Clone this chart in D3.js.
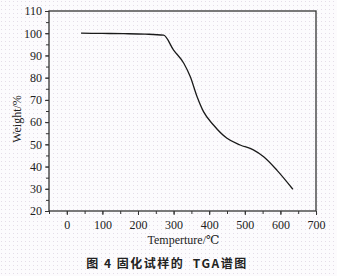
<!DOCTYPE html>
<html>
<head>
<meta charset="utf-8">
<script src="https://cdn.jsdelivr.net/npm/d3@7"></script>
<style>
  body { margin: 0; background: #fbf9fc; }
  svg { display: block; }
</style>
</head>
<body>
<svg id="chart" width="337" height="276"></svg>
<script>
// TGA curve
var temps   = [40, 100, 160, 220, 272, 300, 329, 347, 366, 384, 412, 450, 487, 524, 553, 590, 635];
var weights = [100, 99.9, 99.8, 99.6, 99.1, 92.4, 86.4, 80.4, 71.4, 64.7, 58.7, 52.7, 49.7, 47.5, 44.4, 38.4, 29.8];
var xTicks = [0, 100, 200, 300, 400, 500, 600, 700];
var yTicks = [20, 30, 40, 50, 60, 70, 80, 90, 100, 110];

var svg = d3.select("#chart");
var pLeft = 49, pRight = 316, pTop = 11, pBottom = 211;

// faint dotted paper background
var defs = svg.append("defs");
var pat = defs.append("pattern")
  .attr("id", "dots").attr("width", 4).attr("height", 4)
  .attr("patternUnits", "userSpaceOnUse");
pat.append("rect").attr("width", 4).attr("height", 4).attr("fill", "#fcfbfd");
pat.append("rect").attr("x", 1).attr("y", 1).attr("width", 1).attr("height", 1).attr("fill", "#e4dde8");
svg.append("rect").attr("width", 337).attr("height", 276).attr("fill", "url(#dots)");

var x = d3.scaleLinear().domain([-50, 700]).range([pLeft, pRight]);
var y = d3.scaleLinear().domain([20, 110]).range([pBottom, pTop]);

var font = "'Liberation Serif', 'DejaVu Serif', serif";

// minor ticks
svg.append("g")
  .attr("transform", "translate(0," + pBottom + ")")
  .call(d3.axisBottom(x).tickValues(d3.range(-50, 701, 50)).tickSize(3).tickFormat(""))
  .call(g => g.select(".domain").remove());
svg.append("g")
  .attr("transform", "translate(" + pLeft + ",0)")
  .call(d3.axisLeft(y).tickValues(d3.range(20, 111, 5)).tickSize(3).tickFormat(""))
  .call(g => g.select(".domain").remove());

// major ticks
var xAxis = svg.append("g")
  .attr("transform", "translate(0," + pBottom + ")")
  .call(d3.axisBottom(x).tickValues(xTicks).tickSize(4).tickPadding(5));
var yAxis = svg.append("g")
  .attr("transform", "translate(" + pLeft + ",0)")
  .call(d3.axisLeft(y).tickValues(yTicks).tickSize(4).tickPadding(3));

[xAxis, yAxis].forEach(function(a) {
  a.select(".domain").remove();
  a.selectAll("text").attr("font-family", font).attr("font-size", 12).attr("fill", "#222");
});
svg.selectAll(".tick line").attr("stroke", "#333");

// frame
svg.append("rect")
  .attr("x", pLeft).attr("y", pTop)
  .attr("width", pRight - pLeft).attr("height", pBottom - pTop)
  .attr("fill", "none").attr("stroke", "#333").attr("stroke-width", 1.3);

// curve
var line = d3.line()
  .x((d, i) => x(temps[i]))
  .y(d => y(d))
  .curve(d3.curveMonotoneX);
svg.append("path")
  .attr("d", line(weights))
  .attr("fill", "none")
  .attr("stroke", "#1a1a1a")
  .attr("stroke-width", 1.3);

// titles
svg.append("text")
  .attr("x", (pLeft + pRight) / 2 + 1).attr("y", 244)
  .attr("text-anchor", "middle")
  .attr("font-family", font).attr("font-size", 12).attr("fill", "#222")
  .text("Temperture/℃");

svg.append("text")
  .attr("transform", "translate(21," + ((pTop + pBottom) / 2 + 8) + ") rotate(-90)")
  .attr("text-anchor", "middle")
  .attr("font-family", font).attr("font-size", 12).attr("fill", "#222")
  .text("Weight/%");

svg.append("text")
  .attr("x", 167).attr("y", 268)
  .attr("text-anchor", "middle")
  .attr("font-family", "'Noto Sans CJK SC', sans-serif")
  .attr("font-size", 12).attr("font-weight", "bold").attr("fill", "#222")
  .attr("letter-spacing", 1.5)
  .attr("xml:space", "preserve")
  .text("图 4 固化试样的  TGA谱图");
</script>
</body>
</html>
